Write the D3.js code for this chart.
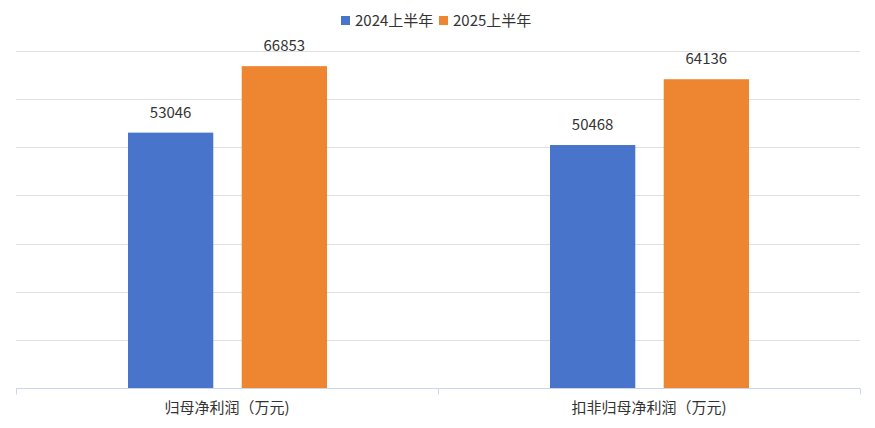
<!DOCTYPE html>
<html>
<head>
<meta charset="utf-8">
<script src="https://cdn.jsdelivr.net/npm/d3@7"></script>
<style>
  html, body { margin: 0; padding: 0; background: #fff; }
  svg text { font-family: "Noto Sans CJK SC", "Noto Sans", sans-serif; fill: #333; }
</style>
</head>
<body>
<svg id="stage" width="875" height="428"></svg>
<script>
// chart data
const categories = ["归母净利润（万元)", "扣非归母净利润（万元)"];
const seriesNames = ["2024上半年", "2025上半年"];
const values2024 = [53046, 50468];
const values2025 = [66853, 64136];
const colors = ["#4874cb", "#ee8530"];

const svg = d3.select("#stage");
const margin = { top: 51, right: 15, bottom: 40, left: 16 };
const width = 875 - margin.left - margin.right;
const height = 428 - margin.top - margin.bottom - 0; // plot bottom at 388

const x = d3.scaleBand().domain(categories).range([0, width]);
const xInner = d3.scaleBand().domain(seriesNames).range([112, 311]).paddingInner(0.25);
const y = d3.scaleLinear().domain([0, 70000]).range([height, 0]);

const g = svg.append("g").attr("transform", `translate(${margin.left},${margin.top})`);

// gridlines
g.append("g")
  .selectAll("line")
  .data(y.ticks(7).filter((d) => d > 0))
  .enter()
  .append("line")
  .attr("x1", 0)
  .attr("x2", width)
  .attr("y1", (d) => Math.round(y(d)) + 0.5)
  .attr("y2", (d) => Math.round(y(d)) + 0.5)
  .attr("stroke", "#e0e0e0");

// bars
const series = seriesNames.map((name, i) => ({
  name,
  color: colors[i],
  values: i === 0 ? values2024 : values2025,
}));

const groups = g
  .selectAll("g.series")
  .data(series)
  .enter()
  .append("g")
  .attr("class", "series");

groups
  .selectAll("rect")
  .data((s) => s.values.map((v, i) => ({ v, cat: categories[i], s })))
  .enter()
  .append("rect")
  .attr("x", (d) => x(d.cat) + xInner(d.s.name))
  .attr("width", xInner.bandwidth())
  .attr("y", (d) => y(d.v))
  .attr("height", (d) => height - y(d.v))
  .attr("fill", (d) => d.s.color);

groups
  .selectAll("text")
  .data((s) => s.values.map((v, i) => ({ v, cat: categories[i], s })))
  .enter()
  .append("text")
  .attr("x", (d) => x(d.cat) + xInner(d.s.name) + xInner.bandwidth() / 2)
  .attr("y", (d) => y(d.v) - 15)
  .attr("text-anchor", "middle")
  .attr("font-size", 15)
  .text((d) => d.v);

// x axis
const xAxis = g.append("g").attr("transform", `translate(0,${height + 0.5})`);
xAxis
  .append("line")
  .attr("x1", 0)
  .attr("x2", width)
  .attr("stroke", "#ccd6eb");
xAxis
  .selectAll("line.tick")
  .data([0, x.bandwidth(), width])
  .enter()
  .append("line")
  .attr("class", "tick")
  .attr("x1", (d) => Math.round(d) + 0.5)
  .attr("x2", (d) => Math.round(d) + 0.5)
  .attr("y1", 0)
  .attr("y2", 6)
  .attr("stroke", "#ccd6eb");
xAxis
  .selectAll("text")
  .data(categories)
  .enter()
  .append("text")
  .attr("x", (d) => x(d) + x.bandwidth() / 2)
  .attr("y", 24)
  .attr("text-anchor", "middle")
  .attr("font-size", 15)
  .text((d) => d);

// legend
const legend = svg.append("g").attr("transform", "translate(341,15)");
const legendItems = legend
  .selectAll("g")
  .data(series)
  .enter()
  .append("g")
  .attr("transform", (_, i) => `translate(${i * 98},0)`);
legendItems
  .append("rect")
  .attr("width", 9)
  .attr("height", 9)
  .attr("y", 1)
  .attr("fill", (d) => d.color);
legendItems
  .append("text")
  .attr("x", 14)
  .attr("y", 10.5)
  .attr("font-size", 15)
  .text((d) => d.name);
</script>
</body>
</html>
